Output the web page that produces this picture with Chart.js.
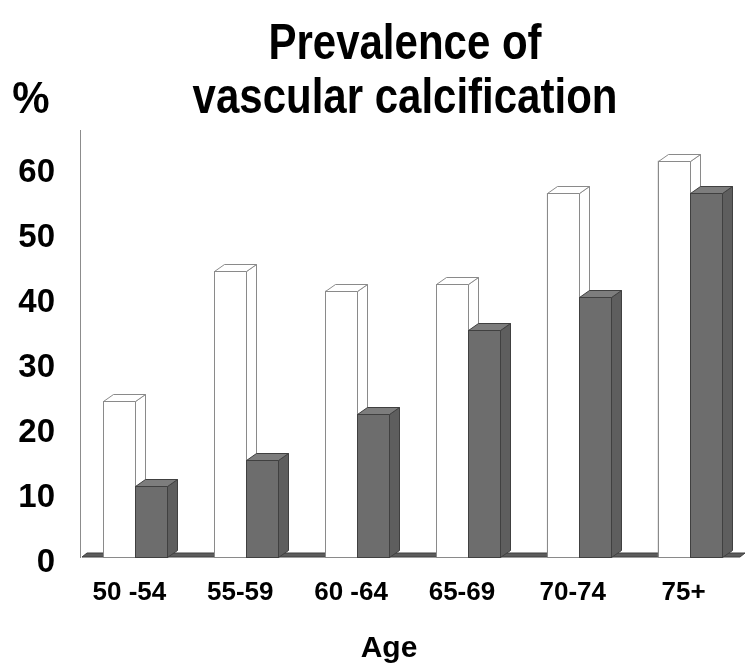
<!DOCTYPE html>
<html>
<head>
<meta charset="utf-8">
<script src="https://cdn.jsdelivr.net/npm/chart.js@4.4.0/dist/chart.umd.min.js"></script>
<style>
  html, body { margin: 0; padding: 0; background: #fff; }
  #wrap { width: 750px; height: 666px; }
</style>
</head>
<body>
<div id="wrap"><canvas id="chart" width="750" height="666"></canvas></div>
<script>
// Age groups and prevalence (%) for the two groups
const ageGroups = ['50 -54', '55-59', '60 -64', '65-69', '70-74', '75+'];
const openBars = [24, 44, 41, 42, 56, 61];
const filledBars = [11, 15, 22, 35, 40, 56];
const yTickValues = [0, 10, 20, 30, 40, 50, 60];

const FONT = "'Liberation Sans', Arial, Helvetica, sans-serif";
const DEPTH_X = 10;
const DEPTH_Y = 7;

// Draws the floor strip under the bars
const floorPlugin = {
    id: 'floor',
    beforeDatasetsDraw(chart) {
        const { ctx, chartArea } = chart;
        const base = chart.scales.y.getPixelForValue(0);
        ctx.save();
        ctx.fillStyle = '#5c5c5c';
        ctx.beginPath();
        ctx.moveTo(chartArea.left + 2, base);
        ctx.lineTo(chartArea.left + 2 + 5, base - 4);
        ctx.lineTo(chartArea.right, base - 4);
        ctx.lineTo(chartArea.right - 5, base);
        ctx.closePath();
        ctx.fill();
        ctx.strokeStyle = '#3e3e3e';
        ctx.lineWidth = 1;
        ctx.stroke();
        ctx.restore();
    }
};

// Redraws every bar as a box (front, side, top), left dataset first
// so the right-hand bar sits in front of its neighbour's side face
const boxPlugin = {
    id: 'box3d',
    afterDatasetsDraw(chart) {
        const { ctx } = chart;
        ctx.save();
        ctx.lineWidth = 1;
        ctx.lineJoin = 'miter';
        chart.data.datasets.forEach((ds, i) => {
            const meta = chart.getDatasetMeta(i);
            ctx.strokeStyle = ds.borderColor;
            meta.data.forEach(bar => {
                const { x, y, base, width } = bar.getProps(['x', 'y', 'base', 'width'], true);
                const left = Math.round(x - width / 2) + 0.5;
                const right = Math.round(x + width / 2) + 0.5;
                const top = Math.round(y) + 0.5;
                const bottom = Math.round(base) + 0.5;

                // front face
                ctx.fillStyle = ds.backgroundColor;
                ctx.fillRect(left, top, right - left, bottom - top);
                ctx.strokeRect(left, top, right - left, bottom - top);

                // side face
                ctx.fillStyle = ds.sideColor;
                ctx.beginPath();
                ctx.moveTo(right, top);
                ctx.lineTo(right + DEPTH_X, top - DEPTH_Y);
                ctx.lineTo(right + DEPTH_X, bottom - DEPTH_Y);
                ctx.lineTo(right, bottom);
                ctx.closePath();
                ctx.fill();
                ctx.stroke();

                // top face
                ctx.fillStyle = ds.topColor;
                ctx.beginPath();
                ctx.moveTo(left, top);
                ctx.lineTo(left + DEPTH_X, top - DEPTH_Y);
                ctx.lineTo(right + DEPTH_X, top - DEPTH_Y);
                ctx.lineTo(right, top);
                ctx.closePath();
                ctx.fill();
                ctx.stroke();
            });
        });
        ctx.restore();
    }
};

// Title, unit and axis caption (title is drawn slightly tall and narrow)
function tallText(ctx, text, x, baseline, stretch) {
    ctx.save();
    ctx.translate(x, baseline);
    ctx.scale(1, stretch);
    ctx.fillText(text, 0, 0);
    ctx.restore();
}

const labelsPlugin = {
    id: 'captions',
    afterDraw(chart) {
        const { ctx } = chart;
        ctx.save();
        ctx.fillStyle = '#000';
        ctx.textAlign = 'center';
        ctx.textBaseline = 'alphabetic';
        ctx.font = 'bold 42px ' + FONT;
        tallText(ctx, 'Prevalence of', 405, 59, 1.2);
        tallText(ctx, 'vascular calcification', 405, 113, 1.2);
        ctx.font = 'bold 42px ' + FONT;
        tallText(ctx, '%', 31, 113, 1.05);
        ctx.font = 'bold 30px ' + FONT;
        ctx.fillText('Age', 389, 657);
        ctx.restore();
    }
};

new Chart(document.getElementById('chart'), {
    type: 'bar',
    data: {
        labels: ageGroups,
        datasets: [
            {
                data: openBars,
                backgroundColor: '#ffffff',
                borderColor: '#8a8a8a',
                borderWidth: 1,
                sideColor: '#ffffff',
                topColor: '#ffffff'
            },
            {
                data: filledBars,
                backgroundColor: '#6d6d6d',
                borderColor: '#404040',
                borderWidth: 1,
                sideColor: '#5e5e5e',
                topColor: '#7d7d7d'
            }
        ]
    },
    options: {
        responsive: false,
        animation: false,
        layout: { padding: { top: 130, right: 5, left: 0, bottom: 0 } },
        plugins: {
            legend: { display: false },
            tooltip: { enabled: false }
        },
        datasets: {
            bar: { barPercentage: 1, categoryPercentage: 0.578 }
        },
        scales: {
            x: {
                grid: { display: false, drawTicks: false },
                border: { display: false },
                ticks: {
                    color: '#000',
                    font: { family: FONT, size: 26, weight: 'bold' },
                    padding: 20,
                    labelOffset: -6,
                    maxRotation: 0
                },
                afterFit(scale) { scale.height = 109; }
            },
            y: {
                min: 0,
                max: 65.7,
                grid: { display: false, drawTicks: false },
                border: { display: true, color: '#8c8c8c', width: 1 },
                ticks: {
                    color: '#000',
                    font: { family: FONT, size: 33, weight: 'bold' },
                    padding: 25,
                    labelOffset: 6
                },
                afterBuildTicks(scale) {
                    scale.ticks = yTickValues.map(v => ({ value: v }));
                },
                afterFit(scale) { scale.width = 80; }
            }
        }
    },
    plugins: [floorPlugin, boxPlugin, labelsPlugin]
});
</script>
</body>
</html>
